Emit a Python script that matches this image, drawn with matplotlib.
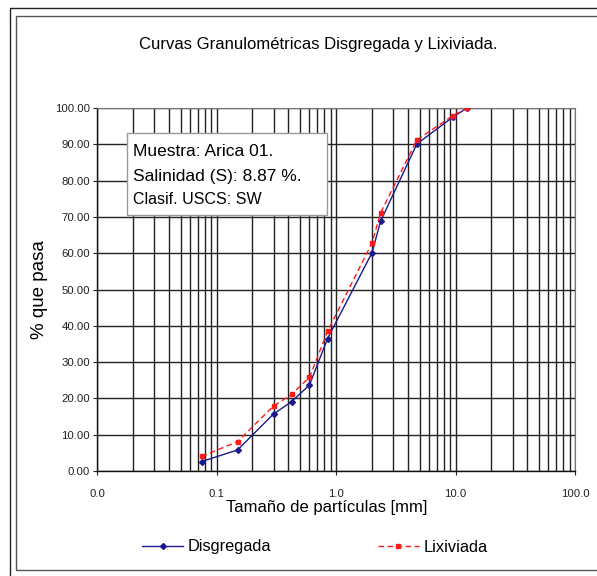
import numpy as np
import matplotlib.pyplot as plt
from matplotlib.patches import Rectangle
from matplotlib.ticker import FixedLocator, NullFormatter

plt.rcParams['font.family'] = ['Liberation Sans', 'DejaVu Sans']

# sieve sizes [mm] and % passing
tamano = [0.075, 0.15, 0.3, 0.425, 0.6, 0.85, 2.0, 2.36, 4.75, 9.5, 12.5]
disgregada = [2.6, 5.8, 15.7, 19.1, 23.7, 36.5, 60.1, 68.8, 90.1, 97.5, 100.0]
lixiviada = [4.0, 8.1, 17.9, 21.1, 25.8, 38.5, 62.8, 71.1, 91.2, 97.9, 100.0]

x_ticks = [0.01, 0.1, 1, 10, 100]
x_labels = ['0.0', '0.1', '1.0', '10.0', '100.0']
y_ticks = list(range(0, 101, 10))

fig = plt.figure(figsize=(5.97, 5.76), dpi=100)

# double frame around the whole chart
W, H = 597, 576
fig.patches.append(Rectangle((10 / W, -0.1), 1.2, 1 - 8 / H + 0.1, transform=fig.transFigure,
                             fill=False, edgecolor='#222222', lw=1.0))
fig.patches.append(Rectangle((16 / W, 1 - 570 / H), 1.2, (570 - 16) / H, transform=fig.transFigure,
                             fill=False, edgecolor='#555555', lw=1.0))

ax = fig.add_axes([97 / W, 1 - 471 / H, 478 / W, 363 / H])
ax.set_xscale('log')
ax.set_xlim(0.01, 100)
ax.set_ylim(0, 100)

# grid: every 1..9 x 10^k vertically, every 10 % horizontally
vlines = [m * 10.0 ** k for k in range(-2, 2) for m in range(1, 10)] + [100]
for v in vlines:
    ax.axvline(v, color='#222222', lw=1.0, zorder=1)
for h in y_ticks:
    ax.axhline(h, color='#222222', lw=1.0, zorder=1)

ax.plot(tamano, disgregada, color='#1a1a8c', lw=1.0, marker='D', ms=3,
        label='Disgregada', zorder=3)
ax.plot(tamano, lixiviada, color='#ff1a1a', lw=1.0, ls=(0, (4, 2.5)), marker='s', ms=3.5,
        label='Lixiviada', zorder=4)

ax.xaxis.set_major_locator(FixedLocator(x_ticks))
ax.set_xticklabels(x_labels)
ax.xaxis.set_minor_formatter(NullFormatter())
ax.tick_params(axis='x', which='minor', length=0)
ax.set_yticks(y_ticks)
ax.set_yticklabels(['%.2f' % t for t in y_ticks])
ax.tick_params(axis='both', which='major', labelsize=8.2, length=3, width=0.8,
               colors='#222222', labelcolor='#222222')
ax.tick_params(axis='x', pad=10)
ax.tick_params(axis='y', pad=2)

for s in ['top', 'right']:
    ax.spines[s].set_color('#777777')
for s in ['left', 'bottom']:
    ax.spines[s].set_color('#111111')
    ax.spines[s].set_linewidth(1.0)

ax.set_xlabel('Tamaño de partículas [mm]', fontsize=12)
ax.xaxis.set_label_coords((327 - 97) / 478, -(500 - 471) / 363)
ax.set_ylabel('% que pasa', fontsize=13.5)
ax.yaxis.set_label_coords(-(97 - 48) / 478, 0.5)

fig.text(318 / W, 1 - 45 / H, 'Curvas Granulométricas Disgregada y Lixiviada.',
         ha='center', va='center', fontsize=12)

# sample info box
box = Rectangle(((127 - 97) / 478, (471 - 215) / 363), 200 / 478, 82 / 363,
                transform=ax.transAxes, facecolor='white', edgecolor='#999999',
                lw=1.0, zorder=5)
ax.add_patch(box)
ax.text((133 - 97) / 478, (471 - 152) / 363, 'Muestra: Arica 01.', transform=ax.transAxes,
        fontsize=12.5, va='center', zorder=6)
ax.text((133 - 97) / 478, (471 - 176) / 363, 'Salinidad (S): 8.87 %.', transform=ax.transAxes,
        fontsize=12.5, va='center', zorder=6)
ax.text((133 - 97) / 478, (471 - 199) / 363, 'Clasif. USCS: SW', transform=ax.transAxes,
        fontsize=11.5, va='center', zorder=6)

fig.legend(loc='center', bbox_to_anchor=(315 / W, 1 - 547 / H), ncol=2, frameon=False,
           fontsize=11.8, handlelength=2.5, columnspacing=6.5, handletextpad=0.3)

fig.savefig('out.png', dpi=100)
